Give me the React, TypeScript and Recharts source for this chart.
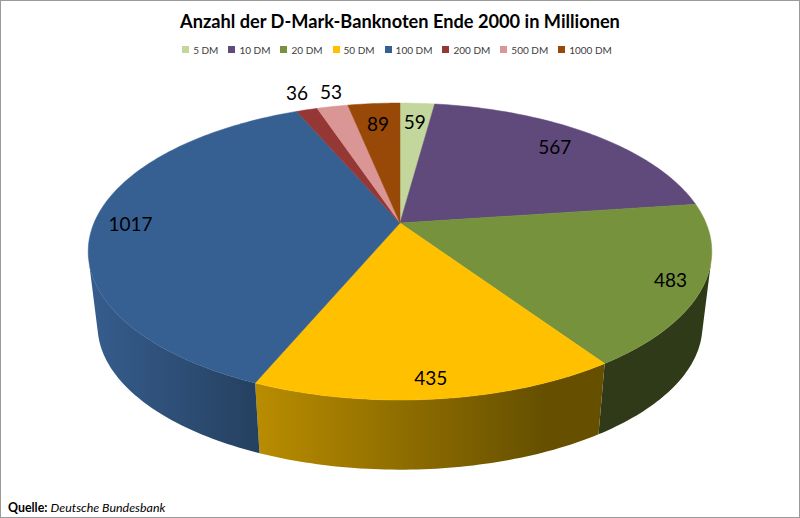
import { PieChart, Pie, Legend } from 'recharts'

const categories = ['5 DM', '10 DM', '20 DM', '50 DM', '100 DM', '200 DM', '500 DM', '1000 DM']
const counts = [59, 567, 483, 435, 1017, 36, 53, 89]
const colors = ['#C3D69B', '#604A7B', '#76923C', '#FFC000', '#366092', '#953735', '#D99694', '#984807']
const wallColors = ['#7d8a63', '#3d2f4f', 'url(#wall20)', 'url(#wall50)', 'url(#wall100)', '#5f2322', '#8b605f', '#612e04']
// how far out each value label sits, as a share of the pie radius, plus a small nudge
const labelFactors = [0.82, 0.82, 0.9, 0.9, 0.88, 1.18, 1.15, 0.81]
const labelNudgeX = [0, -5, 0, -2, 0, 4, 7, 0]
const labelNudgeY = [0, -2, 0, 0, 0, 0, -1, 0]

const data = categories.map((name, i) => ({ name, value: counts[i], fill: colors[i] }))

const WIDTH = 800
const HEIGHT = 518
const CX = 400
const CY = 223
const RADIUS = 306
const SQUASH = 143 / 306
const PERSPECTIVE = 0.192
const WALL_DROP = 75
const WALL_SCALE = 0.97

const RAD = Math.PI / 180

// tilted circle -> screen, angle in degrees, factor = share of radius
function project(cx: number, cy: number, r: number, angle: number, factor = 1) {
  const cos = Math.cos(angle * RAD)
  const sin = Math.sin(angle * RAD)
  const w = 1 + PERSPECTIVE * factor * sin
  return { x: cx + (r * factor * cos) / w, y: cy - (r * SQUASH * factor * sin) / w }
}

function arcPoints(start: number, end: number, cx: number, cy: number, r: number) {
  const steps = Math.max(2, Math.ceil(Math.abs(end - start)))
  const pts = []
  for (let i = 0; i <= steps; i++) {
    pts.push(project(cx, cy, r, start + ((end - start) * i) / steps))
  }
  return pts
}

const toPath = (pts: { x: number; y: number }[]) =>
  pts.map((p, i) => `${i ? 'L' : 'M'}${p.x.toFixed(2)},${p.y.toFixed(2)}`).join(' ') + ' Z'

function TopFace(props: any) {
  const { cx, cy, outerRadius, startAngle, endAngle, fill } = props
  const pts = [{ x: cx, y: cy }, ...arcPoints(startAngle, endAngle, cx, cy, outerRadius)]
  return <path d={toPath(pts)} fill={fill} stroke={fill} strokeWidth={0.5} />
}

function WallFace(props: any) {
  const { cx, cy, outerRadius, startAngle, endAngle, name } = props
  const top = arcPoints(startAngle, endAngle, cx, cy, outerRadius)
  const bottom = arcPoints(startAngle, endAngle, cx, cy + WALL_DROP, outerRadius * WALL_SCALE)
  // keep only the quads that face the viewer, back ones would cancel the fill
  let first = -1
  let last = -1
  for (let i = 0; i < top.length - 1; i++) {
    const q = [top[i], top[i + 1], bottom[i + 1], bottom[i]]
    let area = 0
    for (let j = 0; j < 4; j++) {
      const n = q[(j + 1) % 4]
      area += q[j].x * n.y - n.x * q[j].y
    }
    if (area < 0) {
      if (first < 0) first = i
      last = i + 1
    }
  }
  if (first < 0) return <g />
  const fill = wallColors[categories.indexOf(name)]
  const pts = [...top.slice(first, last + 1), ...bottom.slice(first, last + 1).reverse()]
  return <path d={toPath(pts)} fill={fill} />
}

function ValueLabel(props: any) {
  const { cx, cy, outerRadius, midAngle, index, value } = props
  const p = project(cx, cy, outerRadius, midAngle, labelFactors[index])
  return (
    <text
      x={p.x + labelNudgeX[index]}
      y={p.y + labelNudgeY[index]}
      fill="#000"
      fontSize={19}
      textAnchor="middle"
      dominantBaseline="central"
    >
      {value}
    </text>
  )
}

export default function App() {
  return (
    <div style={{ position: 'absolute', left: 0, top: 0, width: WIDTH, height: HEIGHT, background: '#fff', fontFamily: 'Lato' }}>
      <PieChart width={WIDTH} height={HEIGHT} margin={{ top: 0, right: 0, bottom: 0, left: 0 }}>
        <defs>
          <linearGradient id="wall20" gradientUnits="userSpaceOnUse" x1="600" y1="0" x2="712" y2="0">
            <stop offset="0" stopColor="#303a19" />
            <stop offset="1" stopColor="#2f3a18" />
          </linearGradient>
          <linearGradient id="wall50" gradientUnits="userSpaceOnUse" x1="258" y1="0" x2="605" y2="0">
            <stop offset="0" stopColor="#b98c00" />
            <stop offset="0.82" stopColor="#665000" />
            <stop offset="1" stopColor="#665000" />
          </linearGradient>
          <linearGradient id="wall100" gradientUnits="userSpaceOnUse" x1="90" y1="0" x2="260" y2="0">
            <stop offset="0" stopColor="#365d8e" />
            <stop offset="1" stopColor="#25405f" />
          </linearGradient>
        </defs>
        <text x={400} y={21} textAnchor="middle" dominantBaseline="central" fontSize={18.2} fontWeight={700} fill="#000">
          Anzahl der D-Mark-Banknoten Ende 2000 in Millionen
        </text>
        <Legend
          verticalAlign="middle"
          iconSize={7}
          itemSorter={null}
          wrapperStyle={{ top: 38, left: 2, width: WIDTH }}
          formatter={(v: string) => <span style={{ color: '#404040', fontSize: 10 }}>{v}</span>}
        />
        <Pie
          data={data}
          dataKey="value"
          nameKey="name"
          cx={CX}
          cy={CY}
          outerRadius={RADIUS}
          startAngle={90}
          endAngle={-270}
          legendType="none"
          shape={WallFace}
          isAnimationActive={false}
        />
        <Pie
          data={data}
          dataKey="value"
          nameKey="name"
          cx={CX}
          cy={CY}
          outerRadius={RADIUS}
          startAngle={90}
          endAngle={-270}
          legendType="square"
          shape={TopFace}
          label={ValueLabel}
          labelLine={false}
          isAnimationActive={false}
        />
        <text x={8} y={507} fontSize={12.4} fill="#000" dominantBaseline="central">
          <tspan fontWeight={700}>Quelle: </tspan>
          <tspan fontStyle="italic">Deutsche Bundesbank</tspan>
        </text>
      </PieChart>
      <div style={{ position: 'absolute', inset: 0, boxSizing: 'border-box', border: '1px solid #9a9a9a', pointerEvents: 'none' }} />
    </div>
  )
}
